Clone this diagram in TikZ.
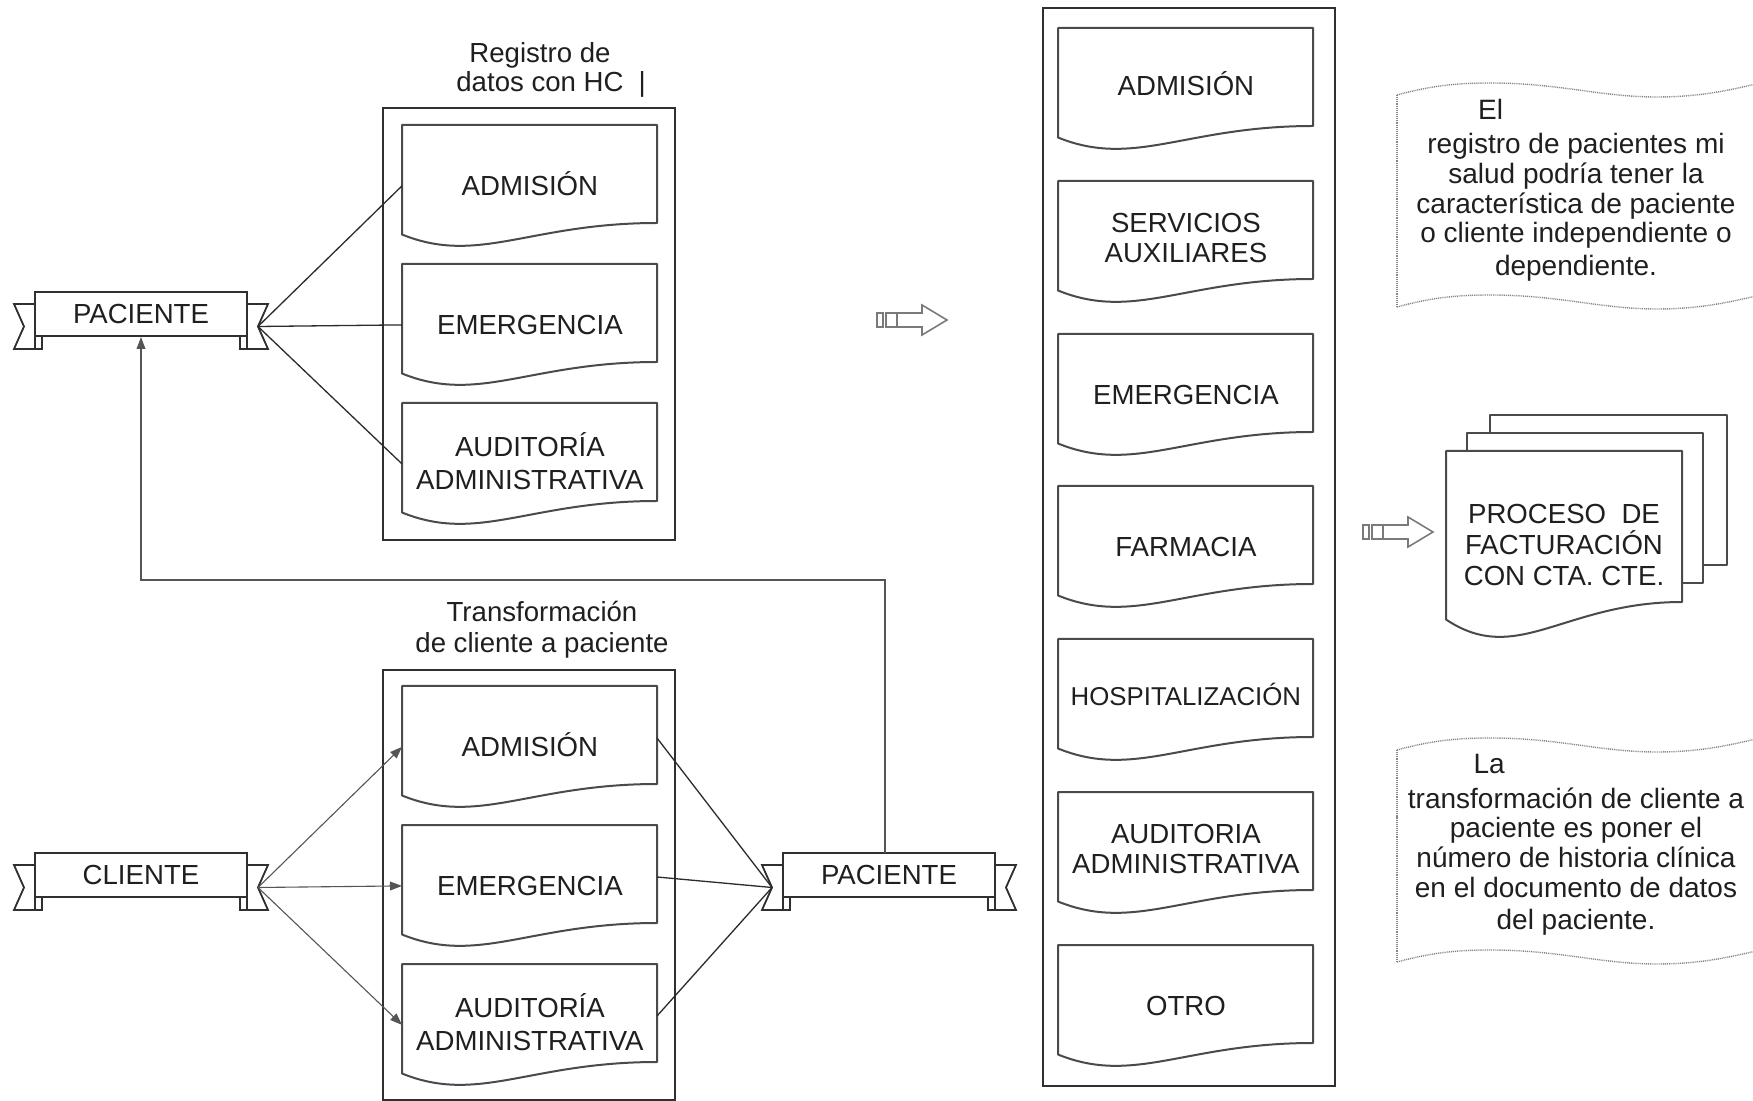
\documentclass[tikz,border=0pt]{standalone}
\usepackage{fontspec}
\setmainfont{Liberation Sans}
\usetikzlibrary{arrows.meta,calc}

\definecolor{ink}{HTML}{1F1F1F}
\definecolor{boxgray}{HTML}{303030}
\definecolor{docgray}{HTML}{4A4A4A}
\definecolor{linkdark}{HTML}{2B2B2B}
\definecolor{linkgray}{HTML}{555555}
\definecolor{notegray}{HTML}{858585}
\definecolor{arrowgray}{HTML}{7A7A7A}

% document symbol: left, top, width, straight height, wave depth
\newcommand\docpath[5]{%
  \draw[docline] (#1,#2) -- (#1+#3,#2) -- (#1+#3,#2+#4)
    .. controls (#1+0.5*#3,#2+#4) and (#1+0.3*#3,#2+#4+1.85*#5) .. (#1,#2+#4+0.5*#5) -- cycle;}

% one document with its text: [node options] name, left, top, text
\newcommand\docitem[5][]{%
  \docpath{#3}{#4}{255}{98}{23}
  \node[docnode,anchor=north west,#1] (#2) at (#3,#4) {#5};
  \coordinate (#2-e) at (#3+255,#4+52);}

% banner with folded ends: name, centre x, centre y, text
\newcommand\ribbon[4]{%
  \draw[ribline] (#2-127,#3-10) -- (#2-99,#3-10) -- (#2-99,#3+35) -- (#2-127,#3+35) -- (#2-117,#3+12.5) -- cycle;
  \draw[ribline] (#2+99,#3-10) -- (#2+127,#3-10) -- (#2+117,#3+12.5) -- (#2+127,#3+35) -- (#2+99,#3+35) -- cycle;
  \draw[ribline] (#2-106,#3+22) -- (#2-106,#3+35);
  \draw[ribline] (#2+106,#3+22) -- (#2+106,#3+35);
  \node[ribbonbox] (#1) at (#2,#3) {#4};
  \coordinate (#1-l) at (#2-117,#3+12.5);
  \coordinate (#1-r) at (#2+117,#3+12.5);}

% wavy note outline, open on the right: y of the top crest
\newcommand\notepath[1]{%
  \draw[noteline] (1397,#1+12) .. controls (1430,#1+3) and (1455,#1) .. (1490,#1)
    .. controls (1560,#1) and (1600,#1+14) .. (1657,#1+14)
    .. controls (1700,#1+14) and (1730,#1+7) .. (1756,#1+1);
  \draw[noteline] (1397,#1+224) .. controls (1430,#1+215) and (1455,#1+212) .. (1490,#1+212)
    .. controls (1560,#1+212) and (1600,#1+226) .. (1657,#1+226)
    .. controls (1700,#1+226) and (1730,#1+219) .. (1756,#1+213);
  \draw[noteline] (1397,#1+12) -- (1397,#1+224);}

\tikzset{
  txt/.style={font=\fontsize{13.8}{16.5}\selectfont, text=ink},
  docnode/.style={txt, inner sep=0pt, minimum width=127.5pt, minimum height=60.5pt, align=center},
  tightlines/.style={font=\fontsize{13.8}{15}\selectfont, yshift=2pt},
  docline/.style={draw=docgray, line width=1pt, line join=round},
  outerbox/.style={draw=boxgray, line width=1pt, inner sep=0pt},
  ribbonbox/.style={txt, draw=boxgray, line width=1pt, fill=white,
    minimum width=106pt, minimum height=22pt, inner sep=0pt},
  ribline/.style={draw=boxgray, line width=0.9pt, fill=white},
  link/.style={draw=linkdark, line width=0.65pt},
  linklight/.style={draw=linkgray, line width=0.55pt},
  tip/.style={-{Triangle[length=6pt,width=4.4pt]}},
  notetxt/.style={font=\fontsize{14}{14.8}\selectfont, text=ink, align=center},
  noteline/.style={draw=notegray, line width=0.7pt, dash pattern=on 0.5pt off 0.45pt},
  arrowline/.style={draw=arrowgray, line width=0.8pt, line join=miter},
  fatarrow/.pic={
    \draw[arrowline] (0,-7) rectangle (6,7);
    \draw[arrowline] (9,-7) rectangle (20,7);
    \draw[arrowline] (20,-7) -- (45,-7) -- (45,-15) -- (70,0) -- (45,15) -- (45,7) -- (20,7);
  }
}

\begin{document}
\begin{tikzpicture}[x=0.5pt,y=-0.5pt]
\useasboundingbox[fill=white] (0,0) rectangle (1753,1101);

% ---------- patient record group ----------
\node[txt, align=center, font=\fontsize{13.8}{14.5}\selectfont] (reglbl) at (540,70)
  {Registro de\\datos con HC\rlap{\hspace{0.55em}|}};
\node[outerbox, minimum width=146pt, minimum height=216pt] (regbox) at (529,324) {};
\docitem{tadm}{402}{125}{ADMISI\smash{Ó}N}
\docitem{temer}{402}{264}{EMERGENCIA}
\docitem{taud}{402}{403}{AUDITOR\smash{Í}A\\ADMINISTRATIVA}

\ribbon{pac1}{141}{314}{PACIENTE}
\draw[link] (pac1-r) -- (tadm.west);
\draw[link] (pac1-r) -- (temer.west);
\draw[link] (pac1-r) -- (taud.west);

% ---------- client to patient group ----------
\node[txt, align=center, font=\fontsize{13.8}{15.5}\selectfont] (trflbl) at (542,630)
  {Transformación\\de cliente a paciente};
\node[outerbox, minimum width=146pt, minimum height=215pt] (trfbox) at (529,885) {};
\docitem{badm}{402}{686}{ADMISI\smash{Ó}N}
\docitem{bemer}{402}{825}{EMERGENCIA}
\docitem{baud}{402}{964}{AUDITOR\smash{Í}A\\ADMINISTRATIVA}

\ribbon{cli}{141}{875}{CLIENTE}
\ribbon{pac2}{889}{875}{PACIENTE}

\draw[linklight,tip] (cli-r) -- (badm.west);
\draw[linklight,tip] (cli-r) -- (bemer.west);
\draw[linklight,tip] (cli-r) -- (baud.west);
\draw[link] (badm-e) -- (pac2-l);
\draw[link] (bemer-e) -- (pac2-l);
\draw[link] (baud-e) -- (pac2-l);

% return path from the new patient back to the registry
\coordinate (fbstart) at (885,853);
\coordinate (fbturn) at (141,580);
\draw[linklight,tip] (fbstart) |- (fbturn) -- (pac1.south);

% ---------- services column ----------
\pic at (877,320) {fatarrow};
\node[outerbox, minimum width=146pt, minimum height=539pt] (svcbox) at (1189,547) {};
\docitem[yshift=1.5pt]{madm}{1058}{28}{ADMISI\smash{Ó}N}
\docitem[tightlines]{mserv}{1058}{181}{SERVICIOS\\AUXILIARES}
\docitem{memer}{1058}{334}{EMERGENCIA}
\docitem{mfarm}{1058}{486}{FARMACIA}
\docitem[font=\fontsize{12.9}{15}\selectfont, yshift=1.5pt]{mhosp}{1058}{639}{HOSPITALIZACI\smash{Ó}N}
\docitem[tightlines]{maud}{1058}{792}{AUDITORIA\\ADMINISTRATIVA}
\docitem{motro}{1058}{945}{OTRO}

% ---------- notes and billing ----------
\notepath{83}
\node[notetxt] (note1) at (1576,190)
  {El\hspace*{6.1em}\\[2.6pt]registro de pacientes mi\\salud podría tener la\\característica de paciente\\o cliente independiente o\\[1.6pt]dependiente.};

\pic at (1363,532) {fatarrow};
\draw[docline, fill=white] (1490,415) rectangle (1727,565);
\draw[docline, fill=white] (1467,433) rectangle (1703,583);
\draw[docline, fill=white] (1446,451) -- (1682,451) -- (1682,602)
  .. controls (1564,602) and (1517,667) .. (1446,619.5) -- cycle;
\node[txt, align=center, font=\fontsize{13.8}{15.5}\selectfont] (fact) at (1564,545)
  {PROCESO~~DE\\FACTURACI\smash{Ó}N\\CON CTA. CTE.};

\notepath{738}
\node[notetxt] (note2) at (1576,845)
  {La\hspace*{6.2em}\\[2.6pt]transformación de cliente a\\paciente es poner el\\número de historia clínica\\en el documento de datos\\[1.6pt]del paciente.};

\end{tikzpicture}
\end{document}
